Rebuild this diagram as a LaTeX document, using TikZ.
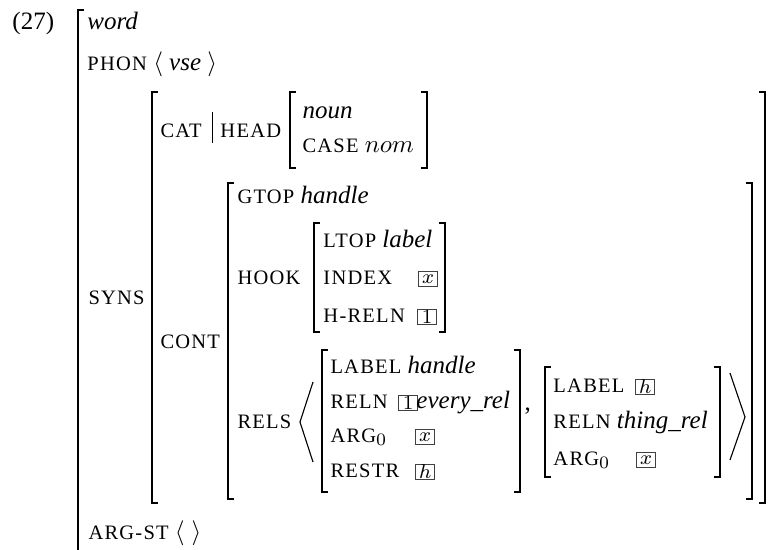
\documentclass[tikz,border=0pt]{standalone}
\usepackage{fontspec}
\setmainfont{Liberation Serif}
\newfontfamily\capsfont[LetterSpace=6]{Liberation Serif}
\usetikzlibrary{positioning}

\newcommand\attr[1]{{\capsfont\fontsize{8.2}{9.8}\selectfont #1}}

\tikzset{
  feat/.style = {anchor=base west, inner sep=0pt},
  brk/.style = {line width=0.75pt},
  tagbox/.style = {draw=black!75, line width=0.5pt, inner sep=0pt, anchor=south west,
    minimum width=7.6pt, minimum height=6pt, font=\fontsize{8.5}{9}\selectfont},
  angle/.style = {line width=0.45pt}
}

\begin{document}
\begin{tikzpicture}[x=0.4pt, y=-0.4pt]
\useasboundingbox (0,0) rectangle (769,549);

% brackets
\draw[brk] (84,10) -- (78,10) -- (78,556);
\foreach \xl/\xr/\yt/\yb in {152/765/92/503, 290/427/92/168, 228/752/183/499,
    314/445/223/332, 322/520/350/492, 545/720/367/477}
{
  \draw[brk] (\xl+6,\yt) -- (\xl,\yt) -- (\xl,\yb) -- (\xl+6,\yb);
  \draw[brk] (\xr-6,\yt) -- (\xr,\yt) -- (\xr,\yb) -- (\xr-6,\yb);
}

% top level
\node[feat] (num) at (12,29) {(27)};
\node[feat] (word) at (87,29) {\textit{word}};
\node[feat] (phon) at (87,70) {\attr{PHON} $\langle$ \textit{vse} $\rangle$};
\node[feat] (syns) at (88,304) {\attr{SYNS}};
\node[feat] (argst) at (88,539) {\attr{ARG-ST} $\langle\;\rangle$};

% CAT | HEAD
\node[feat] (cat) at (160,137) {\attr{CAT}};
\node[feat] (head) at (220,137) {\attr{HEAD}};
\draw[line width=0.4pt] (212,112) -- (212,143);
\node[feat] (noun) at (302,118) {\textit{noun}};
\node[feat] (case) at (302,152) {\attr{CASE} $nom$};

% CONT
\node[feat] (cont) at (160,348) {\attr{CONT}};
\node[feat] (gtop) at (237,203) {\attr{GTOP} \textit{handle}};
\node[feat] (hook) at (237,284) {\attr{HOOK}};
\node[feat] (ltop) at (323,247) {\attr{LTOP} \textit{label}};
\node[feat] (index) at (323,284) {\attr{INDEX}};
\node[tagbox] (ix) at (418,287) {$x$};
\node[feat] (hreln) at (323,322) {\attr{H-RELN}};
\node[tagbox] (ione) at (417,325) {$1$};

% RELS
\node[feat] (rels) at (237,428) {\attr{RELS}};
\draw[angle] (313,382) -- (300,422) -- (313,462);
\node[feat] (labela) at (330,373) {\attr{LABEL} \textit{handle}};
\node[feat] (relna) at (330,408) {\attr{RELN}};
\node[tagbox] (rone) at (398,411) {$1$};
\node[feat] (every) at (416,408) {\textit{every\_rel}};
\node[feat] (arga) at (330,442) {\attr{ARG}$_0$};
\node[tagbox] (ax) at (415,445) {$x$};
\node[feat] (restr) at (330,477) {\attr{RESTR}};
\node[tagbox] (rh) at (415,480) {$h$};
\node[feat] (comma) at (524,410) {,};
\node[feat] (labelb) at (553,392) {\attr{LABEL}};
\node[tagbox] (lh) at (635,395) {$h$};
\node[feat] (relnb) at (553,428) {\attr{RELN} \textit{thing\_rel}};
\node[feat] (argb) at (553,465) {\attr{ARG}$_0$};
\node[tagbox] (bx) at (636,468) {$x$};
\draw[angle] (730,373) -- (745,417) -- (730,460);
\end{tikzpicture}
\end{document}
